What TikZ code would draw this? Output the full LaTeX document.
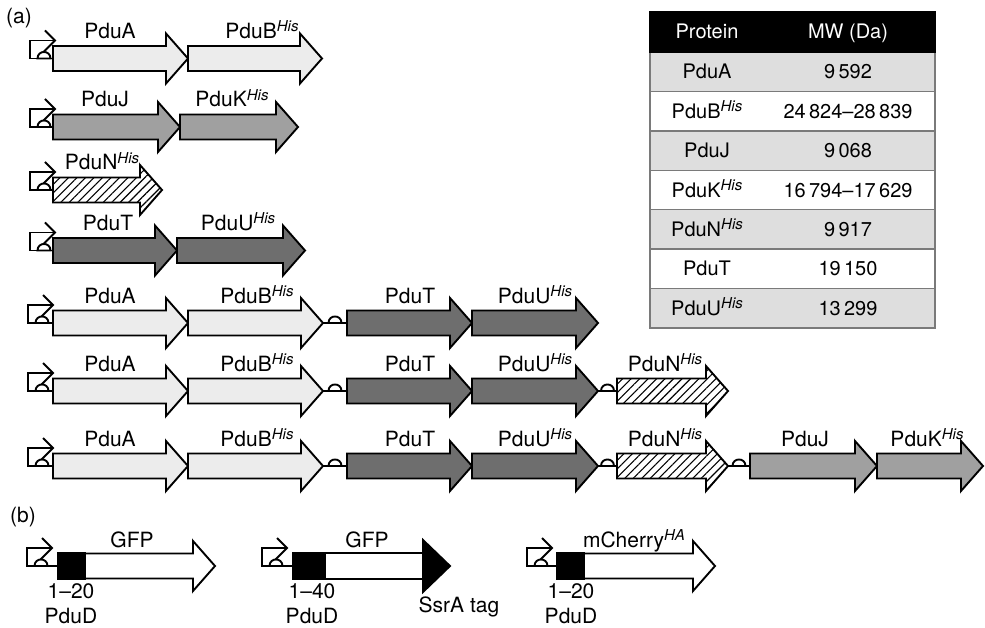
\documentclass[tikz,border=0pt]{standalone}
\usepackage{fontspec}
\setmainfont{TeX Gyre Heros}
\usetikzlibrary{patterns.meta}
\definecolor{glight}{HTML}{ECECEC}
\definecolor{gmid}{HTML}{A0A0A0}
\definecolor{gdark}{HTML}{6E6E6E}
\definecolor{trow}{HTML}{DEDEDE}
\definecolor{tline}{HTML}{7A7A7A}
\newcommand\supit[1]{\raisebox{0.33em}{\fontsize{15}{15}\selectfont\itshape #1}}
\tikzset{
  gene/.style={draw=black, line width=1.9pt, line join=miter},
  lightgene/.style={gene, fill=glight},
  midgene/.style={gene, fill=gmid},
  darkgene/.style={gene, fill=gdark},
  hatchgene/.style={gene, fill=white, postaction={pattern={Lines[angle=45,distance=6pt,line width=1.1pt]}}},
  whitegene/.style={gene, fill=white},
  wire/.style={draw=black, line width=1.9pt, line join=miter},
  lbl/.style={anchor=base, inner sep=0pt, font=\fontsize{21}{25}\selectfont},
  tlbl/.style={anchor=base, inner sep=0pt, font=\fontsize{20}{24}\selectfont},
  hlbl/.style={tlbl, text=white},
  tabline/.style={draw=tline, line width=1.3pt},
}
% gene arrow: start x, tip x, centre y, style
\newcommand\genearr[4]{%
  \draw[#4] (#1,{#3-12.5}) -- ({#2-22},{#3-12.5}) -- ({#2-22},{#3-25}) -- (#2,#3)
    -- ({#2-22},{#3+25}) -- ({#2-22},{#3+12.5}) -- (#1,{#3+12.5}) -- cycle;}
% ribosome binding site dome: centre x, centre y
\newcommand\rbsdome[2]{%
  \draw[wire, fill=white] ({#1-6.5},#2) .. controls ({#1-6.5},{#2-8.7}) and ({#1+6.5},{#2-8.7}) .. ({#1+6.5},#2) -- cycle;}
% spacer with RBS: from x, to x, centre y
\newcommand\spacer[3]{%
  \draw[wire] (#1,#3) -- (#2,#3);
  \rbsdome{(#1+#2)/2}{#3}}
% promoter: vertical x, centre y, end x
\newcommand\prom[3]{%
  \draw[wire] (#3,#2) -- (#1,#2) -- (#1,{#2-18}) -- ({#1+25},{#2-18});
  \draw[wire] ({#1+15},{#2-28}) -- ({#1+25},{#2-18}) -- ({#1+12},{#2-5});
  \rbsdome{#1+14}{#2}}
\begin{document}
\begin{tikzpicture}[x=1pt,y=-1pt]
\useasboundingbox (0,0) rectangle (985,628);

\node[lbl] (la) at (19,24) {(a)};

% ---- row 1
\prom{30}{58.5}{53}
\genearr{53}{188}{58.5}{lightgene}
\genearr{188}{322}{58.5}{lightgene}
\node[lbl] (r1a) at (110,38.5) {PduA};
\node[lbl] (r1b) at (262,38.5) {PduB\supit{His}};

% ---- row 2
\prom{30}{127}{53}
\genearr{53}{180}{127}{midgene}
\genearr{180}{298}{127}{midgene}
\node[lbl] (r2j) at (105,107) {PduJ};
\node[lbl] (r2k) at (232,107) {PduK\supit{His}};

% ---- row 3
\prom{30}{190}{53}
\genearr{53}{162}{190}{hatchgene}
\node[lbl] (r3n) at (102,170) {PduN\supit{His}};

% ---- row 4
\prom{30}{250.5}{53}
\genearr{53}{177}{250.5}{darkgene}
\genearr{177}{305}{250.5}{darkgene}
\node[lbl] (r4t) at (108,230.5) {PduT};
\node[lbl] (r4u) at (238,230.5) {PduU\supit{His}};

% ---- rows 5-7 common part
\foreach \c/\n in {323/5,391/6,466/7}{
  \prom{28}{\c}{53}
  \genearr{53}{188}{\c}{lightgene}
  \genearr{188}{323}{\c}{lightgene}
  \spacer{323}{347}{\c}
  \genearr{347}{472}{\c}{darkgene}
  \genearr{472}{598}{\c}{darkgene}
  \node[lbl] (r\n a) at (110,\c-20) {PduA};
  \node[lbl] (r\n b) at (257,\c-20) {PduB\supit{His}};
  \node[lbl] (r\n t) at (410,\c-20) {PduT};
  \node[lbl] (r\n u) at (535,\c-20) {PduU\supit{His}};
}
% row 6 extra
\spacer{598}{617}{391}
\genearr{617}{728}{391}{hatchgene}
\node[lbl] (r6n) at (665,371) {PduN\supit{His}};
% row 7 extra
\spacer{598}{617}{466}
\genearr{617}{728}{466}{hatchgene}
\spacer{728}{750}{466}
\genearr{750}{877}{466}{midgene}
\genearr{877}{983}{466}{midgene}
\node[lbl] (r7n) at (665,446) {PduN\supit{His}};
\node[lbl] (r7j) at (805,446) {PduJ};
\node[lbl] (r7k) at (927,446) {PduK\supit{His}};

% ---- table
\fill[black] (650,12) rectangle (935,52);
\foreach \k in {0,2,4,6}{
  \fill[trow] (650,{52+\k*39.43}) rectangle (935,{52+(\k+1)*39.43});
}
\foreach \k in {1,...,6}{
  \draw[tabline] (650,{52+\k*39.43}) -- (935,{52+\k*39.43});
}
\draw[tabline] (650,52) -- (650,328) -- (935,328) -- (935,52);
\draw[black, line width=1.3pt] (650,12) rectangle (935,52);
\node[hlbl] (th1) at (707,39) {Protein};
\node[hlbl] (th2) at (848,39) {MW (Da)};
\foreach \k/\p/\m in {0/PduA/9\,592,
  1/PduB\supit{His}/24\,824–28\,839,
  2/PduJ/9\,068,
  3/PduK\supit{His}/16\,794–17\,629,
  4/PduN\supit{His}/9\,917,
  5/PduT/19\,150,
  6/PduU\supit{His}/13\,299}{
  \node[tlbl] (tp\k) at (707,{52+(\k+0.5)*39.43+7}) {\p};
  \node[tlbl] (tm\k) at (848,{52+(\k+0.5)*39.43+7}) {\m};
}

% ---- part (b)
\node[lbl] (lb) at (23,522) {(b)};
% construct 1
\prom{27}{566}{58}
\genearr{85}{215}{566}{whitegene}
\draw[gene, fill=black] (58,553) rectangle (85,579);
\node[lbl] (g1) at (132,547) {GFP};
\node[lbl] (n1) at (71,598) {1–20};
\node[lbl] (d1) at (71,623) {PduD};
% construct 2
\prom{262}{566}{293}
\draw[gene, fill=white] (325,553) rectangle (423,579);
\draw[gene, fill=black] (423,540) -- (450,566) -- (423,592) -- cycle;
\draw[gene, fill=black] (293,553) rectangle (325,579);
\node[lbl] (g2) at (367,547) {GFP};
\node[lbl] (n2) at (312,598) {1–40};
\node[lbl] (d2) at (312,623) {PduD};
\node[lbl] (ss) at (459,612) {SsrA tag};
% construct 3
\prom{527}{566}{557}
\genearr{584}{715}{566}{whitegene}
\draw[gene, fill=black] (557,553) rectangle (584,579);
\node[lbl] (g3) at (634,547) {mCherry\supit{HA}};
\node[lbl] (n3) at (571,598) {1–20};
\node[lbl] (d3) at (571,623) {PduD};
\end{tikzpicture}
\end{document}
